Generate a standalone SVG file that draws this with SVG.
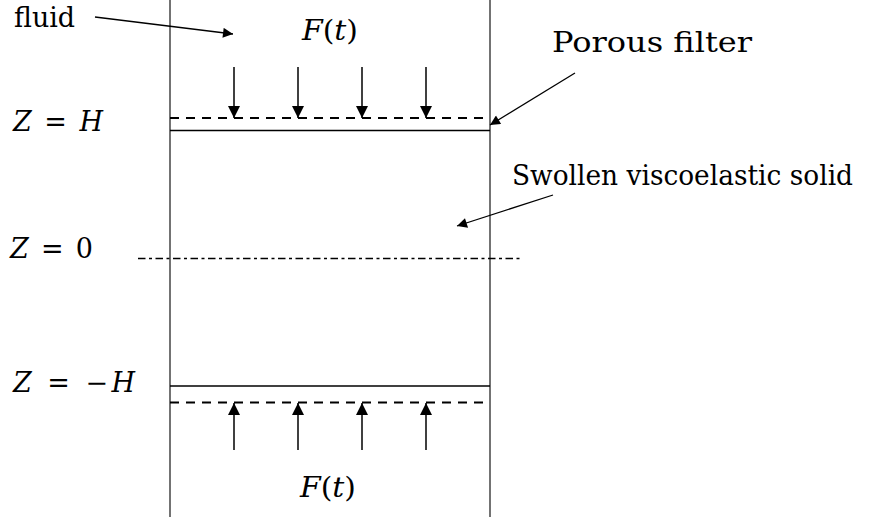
<svg xmlns="http://www.w3.org/2000/svg" width="870" height="517" viewBox="0 0 870 517">
<defs>
<marker id="ah" viewBox="0 0 10 10" refX="10" refY="5" markerWidth="15" markerHeight="12" markerUnits="userSpaceOnUse" orient="auto">
<path d="M0,0 L10,5 L0,10 z" fill="#000"/>
</marker>
<marker id="ahs" viewBox="0 0 10 10" refX="10" refY="5" markerWidth="15" markerHeight="10" markerUnits="userSpaceOnUse" orient="auto">
<path d="M0,0 L10,5 L0,10 z" fill="#000"/>
</marker>
<style>
.t{font-family:'DejaVu Serif','Liberation Serif',serif;font-size:27px;fill:#000}
.m{font-style:italic}
.wall{stroke:#444;stroke-width:1.5;fill:none}
.solid{stroke:#000;stroke-width:1.5;fill:none}
.dash{stroke:#000;stroke-width:2;stroke-dasharray:9,7;fill:none}
.dd{stroke:#000;stroke-width:1.5;stroke-dasharray:7.5,3.5,3,3.5;fill:none}
.arr{stroke:#000;stroke-width:1.5;fill:none;marker-end:url(#ah)}
.ptr{stroke:#000;stroke-width:1.3;fill:none;marker-end:url(#ahs)}
</style>
</defs>
<rect width="870" height="517" fill="#fff"/>
<g id="walls">
<line class="wall" x1="170" y1="0" x2="170" y2="517"/>
<line class="wall" x1="490" y1="0" x2="490" y2="517"/>
</g>
<g id="top-filter">
<line class="dash" x1="170" y1="118" x2="486" y2="118"/>
<line class="solid" x1="170" y1="130.5" x2="490" y2="130.5"/>
</g>
<g id="bottom-filter">
<line class="solid" x1="170" y1="386" x2="490" y2="386"/>
<line class="dash" x1="170" y1="402.5" x2="486" y2="402.5"/>
</g>
<g id="midplane">
<line class="dd" x1="138" y1="258.5" x2="522" y2="258.5"/>
</g>
<g id="connectors">
<line class="arr" x1="234" y1="67" x2="234" y2="118"/>
<line class="arr" x1="298" y1="67" x2="298" y2="118"/>
<line class="arr" x1="362" y1="67" x2="362" y2="118"/>
<line class="arr" x1="426" y1="67" x2="426" y2="118"/>
<line class="arr" x1="234" y1="450" x2="234" y2="403"/>
<line class="arr" x1="298" y1="450" x2="298" y2="403"/>
<line class="arr" x1="362" y1="450" x2="362" y2="403"/>
<line class="arr" x1="426" y1="450" x2="426" y2="403"/>
<line class="ptr" x1="95" y1="17" x2="233" y2="34"/>
<line class="ptr" x1="575" y1="73" x2="490" y2="125"/>
<line class="ptr" x1="553" y1="195" x2="457" y2="226"/>
</g>
<g id="labels">
<text class="t" x="14" y="27" textLength="61" lengthAdjust="spacingAndGlyphs">fluid</text>
<text class="t" x="302" y="40" textLength="56" lengthAdjust="spacingAndGlyphs"><tspan class="m">F</tspan>(<tspan class="m">t</tspan>)</text>
<text class="t" x="300" y="497" textLength="56" lengthAdjust="spacingAndGlyphs"><tspan class="m">F</tspan>(<tspan class="m">t</tspan>)</text>
<text class="t" x="552" y="52" textLength="200" lengthAdjust="spacingAndGlyphs">Porous filter</text>
<text class="t" x="512" y="185" textLength="341" lengthAdjust="spacingAndGlyphs">Swollen viscoelastic solid</text>
<text class="t" x="13" y="131" textLength="90" lengthAdjust="spacing"><tspan class="m">Z</tspan> = <tspan class="m">H</tspan></text>
<text class="t" x="10" y="258" textLength="83" lengthAdjust="spacing"><tspan class="m">Z</tspan> = 0</text>
<text class="t" x="13" y="392" textLength="122" lengthAdjust="spacing"><tspan class="m">Z</tspan> = −<tspan class="m">H</tspan></text>
</g>
</svg>
